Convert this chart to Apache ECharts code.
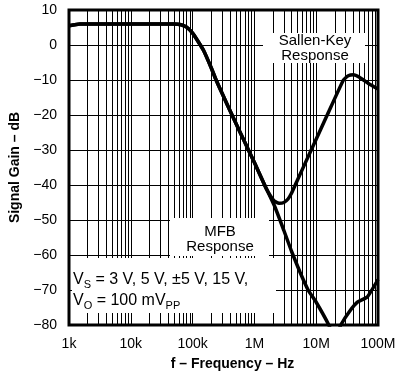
<!DOCTYPE html>
<html>
<head>
<meta charset="utf-8">
<script src="https://cdn.jsdelivr.net/npm/echarts@6/dist/echarts.min.js"></script>
<style>
  html, body { margin: 0; padding: 0; background: #fff; }
  #chart { width: 400px; height: 377px; }
</style>
</head>
<body>
<div id="chart"></div>
<script>
// frequency (Hz) and gain (dB)
var sallenKeyFreq = [1e3, 1.5e3, 3e3, 1e4, 3e4, 5e4, 6.5e4, 8e4, 1e5, 1.2e5, 1.5e5, 2e5, 2.4e5, 3e5, 4.5e5, 7e5, 1e6, 1.5e6,
  1.8e6, 2.1e6, 2.5e6, 3e6, 3.5e6, 4e6, 5e6, 8.3e6, 1.5e7, 2.76e7, 3.3e7, 4e7, 5e7, 7e7, 1e8]
var sallenKeyGain = [5.5, 6, 6, 6, 6, 6, 5.8, 5.1, 3.4, 1.3, -1.5, -6.5, -10, -13.8, -20.6, -27.8, -33.6, -40.4,
  -43, -44.6, -45.2, -45, -44, -42.3, -38.5, -30, -20.1, -10, -8.8, -8.5, -9.2, -11, -12.6]

var mfbFreq = [1e3, 1.5e3, 3e3, 1e4, 3e4, 5e4, 6.5e4, 8e4, 1e5, 1.2e5, 1.5e5, 2e5, 2.4e5, 3e5, 4.5e5, 7e5, 1e6, 1.5e6,
  2.15e6, 3e6, 4e6, 5.5e6, 7.4e6, 1e7, 1.6e7, 2e7, 2.5e7, 3.5e7, 4.7e7, 6.7e7, 1e8]
var mfbGain = [5.5, 6, 6, 6, 6, 6, 5.8, 5.1, 3.4, 1.3, -1.5, -6.5, -10, -13.8, -20.6, -27.8, -33.6, -40.4,
  -46.3, -53, -59, -65, -70, -73.5, -80, -84, -80, -76, -73.4, -72, -67]

var xTickLabels = ['1k', '10k', '100k', '1M', '10M', '100M']
var minorDigits = [2, 3, 4, 5, 6, 7, 8, 9]
var decades = [1e3, 1e4, 1e5, 1e6, 1e7]

function pairs(xs, ys) {
  return xs.map(function (x, i) { return [x, ys[i]] })
}

var minorLines = []
decades.forEach(function (d) {
  minorDigits.forEach(function (m) { minorLines.push({ xAxis: d * m }) })
})

var font = 'Liberation Sans, Arial, Helvetica, sans-serif'
var chart = echarts.init(document.getElementById('chart'))

chart.setOption({
  animation: false,
  backgroundColor: '#fff',
  grid: {
    left: 63, right: 22, top: 10, bottom: 52,
    show: true,
    borderColor: '#000',
    borderWidth: 3
  },
  xAxis: {
    type: 'log',
    logBase: 10,
    min: 1e3,
    max: 1e8,
    name: 'f – Frequency – Hz',
    nameLocation: 'middle',
    nameGap: 32,
    nameTextStyle: { fontFamily: font, fontSize: 14, fontWeight: 'bold', color: '#000', padding: [0, 0, 0, 18] },
    axisLine: { show: false },
    axisTick: { show: false },
    axisLabel: {
      fontFamily: font, fontSize: 14, color: '#000', margin: 12,
      formatter: function (v) {
        var i = Math.round(Math.log10(v)) - 3
        return xTickLabels[i] || ''
      }
    },
    splitLine: { show: true, lineStyle: { color: '#000', width: 1 } }
  },
  yAxis: {
    type: 'value',
    min: -80,
    max: 10,
    interval: 10,
    name: 'Signal Gain – dB',
    nameLocation: 'middle',
    nameGap: 47,
    nameTextStyle: { fontFamily: font, fontSize: 14, fontWeight: 'bold', color: '#000' },
    axisLine: { show: false },
    axisTick: { show: false },
    axisLabel: {
      fontFamily: font, fontSize: 14, color: '#000', margin: 12,
      formatter: function (v) { return String(v).replace('-', '−') }
    },
    splitLine: { show: true, lineStyle: { color: '#000', width: 1 } }
  },
  series: [
    {
      name: 'Sallen-Key',
      type: 'line',
      data: pairs(sallenKeyFreq, sallenKeyGain),
      smooth: 0.15,
      symbol: 'none',
      silent: true,
      z: 6,
      lineStyle: { color: '#000', width: 3.5 }
    },
    {
      name: 'MFB',
      type: 'line',
      data: pairs(mfbFreq, mfbGain),
      smooth: 0.15,
      symbol: 'none',
      silent: true,
      z: 6,
      lineStyle: { color: '#000', width: 3.5 },
      markLine: {
        silent: true,
        symbol: ['none', 'none'],
        label: { show: false },
        z: 1,
        lineStyle: { color: '#000', width: 1, type: 'solid' },
        data: minorLines
      }
    }
  ],
  graphic: [
    { type: 'rect', z: 50, shape: { x: 263, y: 33, width: 102, height: 30 }, style: { fill: '#fff' } },
    { type: 'rect', z: 50, shape: { x: 170, y: 218, width: 99, height: 38 }, style: { fill: '#fff' } },
    { type: 'rect', z: 50, shape: { x: 72, y: 258, width: 204, height: 55 }, style: { fill: '#fff' } },
    {
      type: 'text', z: 60,
      style: { x: 315, y: 33, text: 'Sallen-Key\nResponse', fontFamily: font, fontSize: 15, fill: '#000',
        textAlign: 'center', textVerticalAlign: 'top', lineHeight: 15 }
    },
    {
      type: 'text', z: 60,
      style: { x: 220, y: 224, text: 'MFB\nResponse', fontFamily: font, fontSize: 15, fill: '#000',
        textAlign: 'center', textVerticalAlign: 'top', lineHeight: 15 }
    },
    {
      type: 'text', z: 60,
      style: {
        x: 73, y: 269,
        text: '{a|V}{s|S}{a| = 3 V, 5 V, ±5 V, 15 V,}\n{a|V}{s|O}{a| = 100 mV}{s|PP}',
        fontFamily: font, fontSize: 16, fill: '#000', lineHeight: 21,
        rich: {
          a: { fontFamily: font, fontSize: 16, color: '#000', lineHeight: 21 },
          s: { fontFamily: font, fontSize: 11, color: '#000', lineHeight: 21, verticalAlign: 'bottom', padding: [7, 0, 0, 0] }
        }
      }
    }
  ]
})
</script>
</body>
</html>
